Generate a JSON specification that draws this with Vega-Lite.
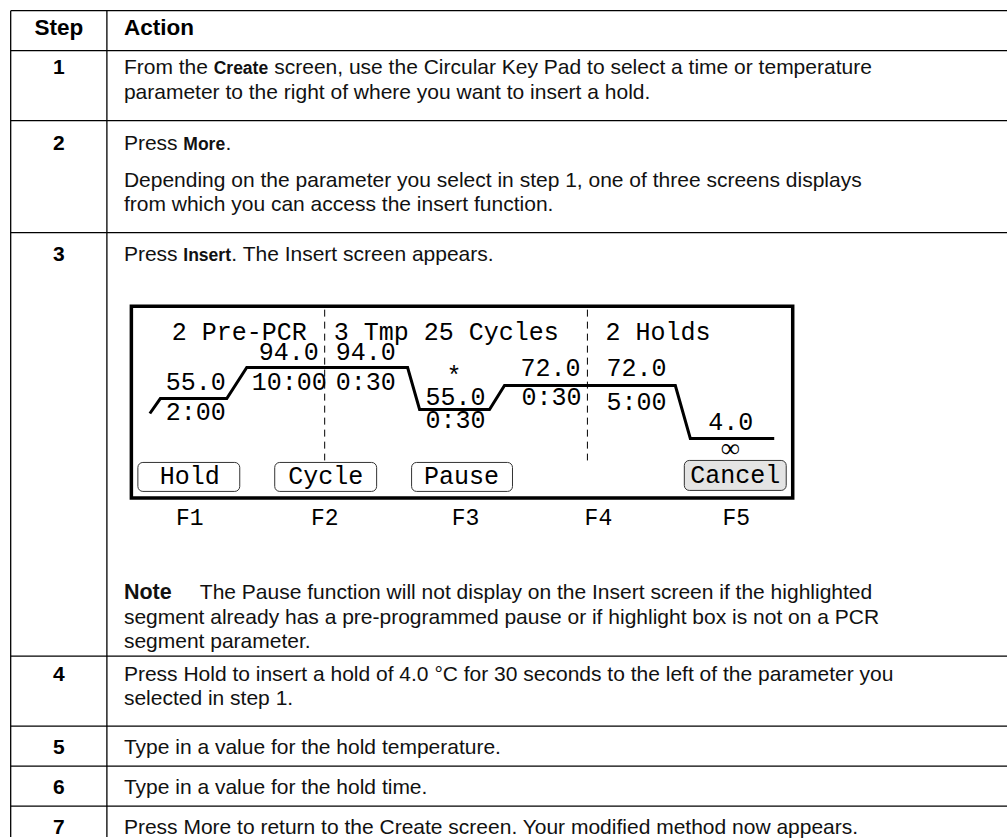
{
  "$schema": "https://vega.github.io/schema/vega-lite/v6.json",
  "autosize": {"type": "fit", "contains": "padding"},
  "width": 1008,
  "height": 838,
  "padding": 0,
  "background": "white",
  "config": {"view": {"stroke": null}},
  "datasets": {
    "rules": [
      {"x": 10.7, "x2": 1008, "y": 10.7, "y2": 10.7},
      {"x": 10.7, "x2": 1008, "y": 50.7, "y2": 50.7},
      {"x": 10.7, "x2": 1008, "y": 120.7, "y2": 120.7},
      {"x": 10.7, "x2": 1008, "y": 233, "y2": 233},
      {"x": 10.7, "x2": 1008, "y": 657, "y2": 657},
      {"x": 10.7, "x2": 1008, "y": 727, "y2": 727},
      {"x": 10.7, "x2": 1008, "y": 767, "y2": 767},
      {"x": 10.7, "x2": 1008, "y": 807, "y2": 807},
      {"x": 10.7, "x2": 10.7, "y": 10.7, "y2": 838},
      {"x": 107, "x2": 107, "y": 10.7, "y2": 838}
    ],
    "dashes": [
      {"x": 325, "y": 310, "y2": 461},
      {"x": 588, "y": 310, "y2": 461}
    ],
    "screen": [
      {"x": 131.5, "x2": 793.5, "y": 306.5, "y2": 498.5}
    ],
    "buttons": [
      {"key": "Hold", "x": 138, "x2": 240, "y": 463, "y2": 492, "active": "no"},
      {"key": "Cycle", "x": 275, "x2": 377, "y": 463, "y2": 492, "active": "no"},
      {"key": "Pause", "x": 412, "x2": 513, "y": 463, "y2": 492, "active": "no"},
      {"key": "Cancel", "x": 685, "x2": 787, "y": 461, "y2": 491, "active": "yes"}
    ],
    "profile": [
      {"seq": 1, "x": 150, "y": 414},
      {"seq": 2, "x": 160.5, "y": 399},
      {"seq": 3, "x": 227, "y": 399},
      {"seq": 4, "x": 247, "y": 368},
      {"seq": 5, "x": 408, "y": 368},
      {"seq": 6, "x": 420, "y": 410},
      {"seq": 7, "x": 490, "y": 410},
      {"seq": 8, "x": 505, "y": 386},
      {"seq": 9, "x": 676, "y": 386},
      {"seq": 10, "x": 691, "y": 439},
      {"seq": 11, "x": 775, "y": 439}
    ],
    "lcd": [
      {"t": "2 Pre-PCR", "x": 172, "y": 332},
      {"t": "3 Tmp 25 Cycles", "x": 334, "y": 332},
      {"t": "2 Holds", "x": 606, "y": 332},
      {"t": "94.0", "x": 259, "y": 352},
      {"t": "94.0", "x": 336, "y": 352},
      {"t": "55.0", "x": 166, "y": 382},
      {"t": "10:00", "x": 252, "y": 382},
      {"t": "0:30", "x": 336, "y": 382},
      {"t": "2:00", "x": 166, "y": 412},
      {"t": "*", "x": 447, "y": 376},
      {"t": "55.0", "x": 426, "y": 397},
      {"t": "0:30", "x": 426, "y": 421},
      {"t": "72.0", "x": 521, "y": 368},
      {"t": "0:30", "x": 522, "y": 397},
      {"t": "72.0", "x": 607, "y": 368},
      {"t": "5:00", "x": 607, "y": 402},
      {"t": "4.0", "x": 709, "y": 423}
    ],
    "keys": [
      {"t": "Hold", "x": 190, "y": 477},
      {"t": "Cycle", "x": 326, "y": 477},
      {"t": "Pause", "x": 462, "y": 477},
      {"t": "Cancel", "x": 736, "y": 476}
    ],
    "fkeys": [
      {"t": "F1", "x": 190, "y": 519},
      {"t": "F2", "x": 325, "y": 519},
      {"t": "F3", "x": 466, "y": 519},
      {"t": "F4", "x": 599, "y": 519},
      {"t": "F5", "x": 737, "y": 519}
    ],
    "infinity": [
      {"t": "∞", "x": 731, "y": 450}
    ],
    "headCenter": [
      {"t": "Step", "x": 59, "y": 35}
    ],
    "headLeft": [
      {"t": "Action", "x": 124, "y": 35}
    ],
    "steps": [
      {"t": "1", "x": 59, "y": 74},
      {"t": "2", "x": 59, "y": 150},
      {"t": "3", "x": 59, "y": 261},
      {"t": "4", "x": 59, "y": 682},
      {"t": "5", "x": 59, "y": 755},
      {"t": "6", "x": 59, "y": 795},
      {"t": "7", "x": 59, "y": 835}
    ],
    "body": [
      {"t": "From the", "x": 124, "y": 74},
      {"t": "screen, use the Circular Key Pad to select a time or temperature", "x": 274.5, "y": 74},
      {"t": "parameter to the right of where you want to insert a hold.", "x": 124, "y": 99},
      {"t": "Press", "x": 124, "y": 150},
      {"t": ".", "x": 225.8, "y": 150},
      {"t": "Depending on the parameter you select in step 1, one of three screens displays", "x": 124, "y": 187},
      {"t": "from which you can access the insert function.", "x": 124, "y": 211},
      {"t": "Press", "x": 124, "y": 261},
      {"t": ". The Insert screen appears.", "x": 231.6, "y": 261},
      {"t": "The Pause function will not display on the Insert screen if the highlighted", "x": 200, "y": 600},
      {"t": "segment already has a pre-programmed pause or if highlight box is not on a PCR", "x": 124, "y": 625},
      {"t": "segment parameter.", "x": 124, "y": 649},
      {"t": "Press Hold to insert a hold of 4.0 °C for 30 seconds to the left of the parameter you", "x": 124, "y": 682},
      {"t": "selected in step 1.", "x": 124, "y": 706},
      {"t": "Type in a value for the hold temperature.", "x": 124, "y": 755},
      {"t": "Type in a value for the hold time.", "x": 124, "y": 795},
      {"t": "Press More to return to the Create screen. Your modified method now appears.", "x": 124, "y": 835}
    ],
    "inlineBold": [
      {"t": "Create", "x": 213.9, "y": 74},
      {"t": "More", "x": 183.5, "y": 150},
      {"t": "Insert", "x": 183.5, "y": 261}
    ],
    "noteLabel": [
      {"t": "Note", "x": 124, "y": 600}
    ]
  },
  "encoding": {
    "x": {"field": "x", "type": "quantitative", "scale": {"domain": [0, 1008], "nice": false, "zero": false}, "axis": null},
    "y": {"field": "y", "type": "quantitative", "scale": {"domain": [0, 838], "nice": false, "zero": false, "reverse": true}, "axis": null}
  },
  "layer": [
    {
      "data": {"name": "rules"},
      "mark": {"type": "rule", "color": "#000000", "strokeWidth": 1.3},
      "encoding": {
        "x2": {"field": "x2"},
        "y2": {"field": "y2"}
      }
    },
    {
      "data": {"name": "screen"},
      "mark": {"type": "rect", "fill": "white", "stroke": "#000000", "strokeWidth": 3.5},
      "encoding": {
        "x2": {"field": "x2"},
        "y2": {"field": "y2"}
      }
    },
    {
      "data": {"name": "dashes"},
      "mark": {"type": "rule", "color": "#000000", "strokeWidth": 1, "strokeDash": [7, 5]},
      "encoding": {
        "y2": {"field": "y2"}
      }
    },
    {
      "data": {"name": "profile"},
      "mark": {"type": "line", "color": "#000000", "strokeWidth": 3, "strokeJoin": "miter"},
      "encoding": {
        "order": {"field": "seq", "type": "quantitative"}
      }
    },
    {
      "data": {"name": "buttons"},
      "mark": {"type": "rect", "stroke": "#333333", "strokeWidth": 1, "cornerRadius": 5},
      "encoding": {
        "x2": {"field": "x2"},
        "y2": {"field": "y2"},
        "fill": {"field": "active", "type": "nominal", "scale": {"domain": ["no", "yes"], "range": ["#ffffff", "#e4e4e4"]}, "legend": null}
      }
    },
    {
      "data": {"name": "lcd"},
      "mark": {"type": "text", "align": "left", "baseline": "middle", "font": "Liberation Mono", "fontSize": 25, "color": "#000000"},
      "encoding": {"text": {"field": "t"}}
    },
    {
      "data": {"name": "keys"},
      "mark": {"type": "text", "align": "center", "baseline": "middle", "font": "Liberation Mono", "fontSize": 25, "color": "#000000"},
      "encoding": {"text": {"field": "t"}}
    },
    {
      "data": {"name": "fkeys"},
      "mark": {"type": "text", "align": "center", "baseline": "middle", "font": "Liberation Mono", "fontSize": 23, "color": "#000000"},
      "encoding": {"text": {"field": "t"}}
    },
    {
      "data": {"name": "infinity"},
      "mark": {"type": "text", "align": "center", "baseline": "middle", "font": "DejaVu Sans", "fontSize": 27, "fontWeight": 200, "color": "#000000"},
      "encoding": {"text": {"field": "t"}}
    },
    {
      "data": {"name": "headCenter"},
      "mark": {"type": "text", "align": "center", "baseline": "alphabetic", "font": "Liberation Sans", "fontSize": 22.5, "fontWeight": "bold", "color": "#000000"},
      "encoding": {"text": {"field": "t"}}
    },
    {
      "data": {"name": "headLeft"},
      "mark": {"type": "text", "align": "left", "baseline": "alphabetic", "font": "Liberation Sans", "fontSize": 22.5, "fontWeight": "bold", "color": "#000000"},
      "encoding": {"text": {"field": "t"}}
    },
    {
      "data": {"name": "steps"},
      "mark": {"type": "text", "align": "center", "baseline": "alphabetic", "font": "Liberation Sans", "fontSize": 21, "fontWeight": "bold", "color": "#000000"},
      "encoding": {"text": {"field": "t"}}
    },
    {
      "data": {"name": "body"},
      "mark": {"type": "text", "align": "left", "baseline": "alphabetic", "font": "Liberation Sans", "fontSize": 21, "color": "#111111"},
      "encoding": {"text": {"field": "t"}}
    },
    {
      "data": {"name": "inlineBold"},
      "mark": {"type": "text", "align": "left", "baseline": "alphabetic", "font": "Liberation Sans", "fontSize": 17.5, "fontWeight": "bold", "color": "#111111"},
      "encoding": {"text": {"field": "t"}}
    },
    {
      "data": {"name": "noteLabel"},
      "mark": {"type": "text", "align": "left", "baseline": "alphabetic", "font": "Liberation Sans", "fontSize": 21.5, "fontWeight": "bold", "color": "#111111"},
      "encoding": {"text": {"field": "t"}}
    }
  ]
}
